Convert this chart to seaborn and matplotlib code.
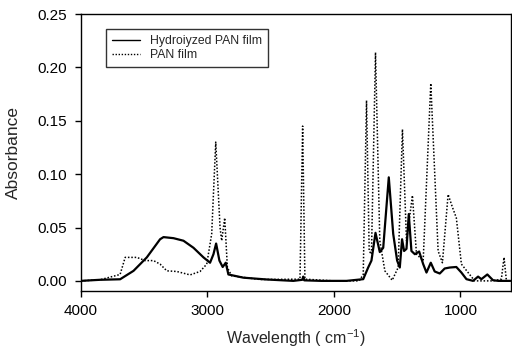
import pandas as pd
import matplotlib.pyplot as plt
import seaborn as sns

# FTIR spectra (wavenumber in cm-1, absorbance)
hyd_wn = [4000, 3850, 3690, 3584, 3479, 3374, 3347, 3268, 3189, 3110, 3031, 2979,
          2952, 2931, 2905, 2879, 2855, 2834, 2716, 2531, 2321, 2250, 2242, 2234,
          2100, 1900, 1768, 1729, 1703, 1671, 1637, 1610, 1566, 1531, 1500, 1479,
          1461, 1445, 1426, 1408, 1387, 1360, 1326, 1294, 1268, 1234, 1203, 1163,
          1124, 1084, 1032, 992, 952, 900, 860, 834, 787, 742, 700, 605]
hyd_abs = [0.0, 0.001, 0.0015, 0.0094, 0.022, 0.039, 0.041, 0.040, 0.0376, 0.031, 0.022, 0.017,
           0.025, 0.035, 0.019, 0.013, 0.017, 0.006, 0.003, 0.0013, 0.0, 0.001, 0.004, 0.0005,
           0.0, 0.0, 0.0016, 0.0125, 0.019, 0.045, 0.027, 0.031, 0.097, 0.044, 0.019, 0.0125,
           0.039, 0.028, 0.030, 0.0626, 0.028, 0.025, 0.0275, 0.0157, 0.0078, 0.017, 0.0088, 0.0069,
           0.0116, 0.0125, 0.013, 0.0078, 0.0016, 0.0, 0.004, 0.0016, 0.006, 0.0006, 0.0, 0.0]

pan_wn = [4000, 3850, 3690, 3650, 3558, 3492, 3426, 3374, 3321, 3242, 3137, 3058,
          3005, 2966, 2934, 2900, 2887, 2863, 2842, 2808, 2584, 2268, 2247, 2229,
          2000, 1800, 1768, 1742, 1721, 1703, 1671, 1637, 1597, 1539, 1492, 1458,
          1426, 1379, 1347, 1294, 1234, 1176, 1142, 1097, 1063, 1032, 992, 939,
          887, 742, 676, 655, 636, 605]
pan_abs = [0.0, 0.001, 0.006, 0.022, 0.022, 0.019, 0.019, 0.0157, 0.0094, 0.0088, 0.0056, 0.0088,
           0.0157, 0.044, 0.130, 0.050, 0.0376, 0.059, 0.0125, 0.0047, 0.0013, 0.0016, 0.145, 0.0016,
           0.0, 0.0, 0.006, 0.169, 0.028, 0.025, 0.214, 0.0376, 0.0094, 0.0006, 0.0125, 0.142,
           0.0376, 0.080, 0.025, 0.019, 0.185, 0.028, 0.017, 0.081, 0.069, 0.059, 0.0157, 0.0078,
           0.0, 0.0, 0.0016, 0.022, 0.0, 0.0]

labels = ["Hydroiyzed PAN film", "PAN film"]

df = pd.concat([
    pd.DataFrame({"wn": hyd_wn, "A": hyd_abs, "sample": labels[0]}),
    pd.DataFrame({"wn": pan_wn, "A": pan_abs, "sample": labels[1]}),
])

sns.set_style("ticks")
plt.rcParams['font.family'] = ['Liberation Sans', 'DejaVu Sans']
plt.rcParams['mathtext.fontset'] = 'custom'
plt.rcParams['mathtext.rm'] = 'Liberation Sans'

fig = plt.figure(figsize=(5.12, 3.53), dpi=100)
ax = fig.add_axes([0.158, 0.1756, 0.84, 0.7847])

sns.lineplot(data=df, x="wn", y="A", hue="sample", style="sample",
             palette=["black", "black"], dashes=[(None, None), (1, 1.2)],
             sort=False, estimator=None, ax=ax)
for line, lw in zip(ax.lines, [1.6, 1.1]):
    line.set_linewidth(lw)

ax.set_xlim(4000, 600)
ax.set_ylim(-0.0095, 0.25)
ax.set_xticks([4000, 3000, 2000, 1000])
ax.set_yticks([0.0, 0.05, 0.10, 0.15, 0.20, 0.25])
ax.set_yticklabels(["0.00", "0.05", "0.10", "0.15", "0.20", "0.25"])
ax.tick_params(labelsize=11, length=4, width=1, colors="black")
ax.tick_params(axis="x", pad=5.5)
ax.tick_params(axis="y", pad=6)
for s in ax.spines.values():
    s.set_visible(True)
    s.set_color("black")
    s.set_linewidth(1.0)

ax.set_xlabel("Wavelength ( cm$^{-1}$)", fontsize=11.5)
ax.set_ylabel("Absorbance", fontsize=12.5)
ax.xaxis.set_label_coords(0.5, -0.17)
ax.xaxis.label.set_va("center")
ax.yaxis.set_label_coords(-0.156, 0.5)
ax.yaxis.label.set_va("center")

leg = ax.legend(loc="upper left", bbox_to_anchor=(0.058, 0.946), fontsize=8.8,
                frameon=True, fancybox=False, edgecolor="black",
                handlelength=2.3, borderpad=0.5, labelspacing=0.15, borderaxespad=0)
leg.get_frame().set_linewidth(1.0)
for h in leg.get_lines():
    h.set_linewidth(1.0)

plt.savefig("out.png", dpi=100)
